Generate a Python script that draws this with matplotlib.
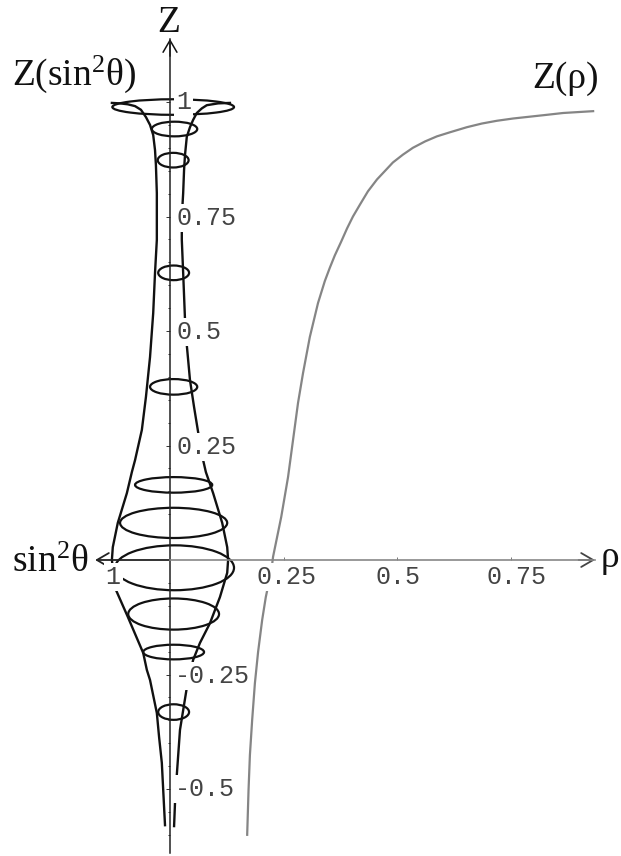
import matplotlib
matplotlib.use('Agg')
import matplotlib.pyplot as plt
from matplotlib.patches import Ellipse

plt.rcParams['font.family'] = ['Liberation Serif', 'DejaVu Serif']
plt.rcParams['mathtext.fontset'] = 'custom'
plt.rcParams['mathtext.rm'] = 'Liberation Serif'
plt.rcParams['mathtext.default'] = 'rm'

# gray curve Z(rho)
rho = [.170, .173, .176, .181, .187, .194, .203, .211, .218, .225, .227, .245, .260, .271, .282,
       .293, .308, .326, .341, .352, .363, .377, .390, .403, .419, .436, .456, .474, .491, .513,
       .535, .562, .588, .617, .654, .687, .720, .756, .793, .830, .866, .899, .932]
z_rho = [-.600, -.502, -.426, -.349, -.269, -.201, -.131, -.081, -.048, -.009, .007, .094, .181,
         .262, .343, .408, .487, .561, .609, .638, .665, .695, .724, .750, .777, .805, .831,
         .850, .868, .885, .900, .914, .925, .934, .945, .953, .959, .964, .968, .972, .976,
         .978, .980]

# black profile, left and right side
left_x = [-.128, -.110, -.093, -.077, -.064, -.053, -.044, -.037, -.033, -.031, -.029, -.029,
          -.033, -.037, -.044, -.053, -.062, -.077, -.084, -.095, -.115, -.126, -.128, -.121,
          -.093, -.059, -.051, -.044, -.029, -.024, -.018, -.011]
left_z = [.998, .997, .995, .991, .983, .967, .950, .928, .895, .862, .801, .699, .627, .539,
          .443, .356, .284, .218, .192, .146, .081, .028, 0, -.061, -.124, -.203, -.240, -.262,
          -.334, -.387, -.443, -.579]
right_x = [.132, .106, .081, .070, .059, .051, .044, .037, .033, .031, .029, .026, .026, .029,
           .033, .037, .044, .053, .062, .073, .079, .095, .115, .126, .128, .126, .110, .088,
           .066, .051, .037, .022, .015, .011, .009]
right_z = [.998, .997, .993, .986, .976, .961, .945, .924, .884, .852, .801, .749, .699, .627,
           .526, .469, .393, .334, .279, .218, .192, .146, .081, .028, 0, -.028, -.081, -.138,
           -.181, -.218, -.279, -.371, -.469, -.531, -.581]

# rings
ring_z = [.989, .941, .873, .627, .378, .164, .081, -.017, -.118, -.201, -.332]
ring_x = [.007, .010, .007, .008, .008, .008, .008, .010, .008, .008, .008]
ring_a = [.134, .050, .034, .034, .052, .085, .118, .131, .100, .067, .034]
ring_b = [.017, .016, .016, .016, .017, .017, .033, .049, .034, .016, .017]

z_ticks = [-.5, -.25, .25, .5, .75, 1]
z_minor = [-.6, -.55, -.45, -.4, -.35, -.3, -.2, -.15, -.1, -.05, .05, .1, .15, .2, .3, .35, .4,
           .45, .55, .6, .65, .7, .8, .85, .9, .95]
z_labels = ['-0.5', '-0.25', '0.25', '0.5', '0.75', '1']
rho_ticks = [.25, .5, .75]
rho_labels = ['0.25', '0.5', '0.75']

fig = plt.figure(figsize=(6.21, 8.56), dpi=100)
ax = fig.add_axes([0, 0, 1, 1])
ax.set_xlim(-170 / 454, 451 / 454)
ax.set_ylim(-296 / 458, 560 / 458)


def at(px, py):
    # picture pixel to data, only for placing text
    return (px - 170) / 454, (560 - py) / 458


ax.plot(rho, z_rho, color='#858585', lw=1.6, zorder=2)
ax.plot(left_x, left_z, color='#111111', lw=1.7, zorder=2)
ax.plot(right_x, right_z, color='#111111', lw=1.7, zorder=2)
for x, z, a, b in zip(ring_x, ring_z, ring_a, ring_b):
    ax.add_patch(Ellipse((x, z), 2 * a, 2 * b, fill=False, ec='#111111', lw=1.6, zorder=2))

# axes
for side in ['top', 'right']:
    ax.spines[side].set_visible(False)
ax.spines['left'].set_position('zero')
ax.spines['bottom'].set_position('zero')
ax.spines['left'].set_bounds(-.640, 1.138)
ax.spines['left'].set_color('#222222')
ax.spines['left'].set_linewidth(1.1)
ax.spines['bottom'].set_bounds(0, .936)
ax.spines['bottom'].set_color('#888888')
ax.spines['bottom'].set_linewidth(1.2)
ax.set_yticks(z_ticks)
ax.set_yticks(z_minor, minor=True)
ax.set_xticks(rho_ticks)
ax.set_yticklabels([])
ax.set_xticklabels([])
ax.tick_params(axis='y', which='major', direction='out', length=3, width=.7, color='#333333')
ax.tick_params(axis='y', which='minor', direction='out', length=1.5, width=.7, color='#333333')
ax.tick_params(axis='x', direction='in', length=2.5, width=.7, color='#777777')
ax.patch.set_visible(False)

head = '->,head_length=.86,head_width=.5'
for start, tip, col, w in [((0, 1.1), (0, 1.138), '#111111', 1.1),
                           ((.9, 0), (.936, 0), '#444444', 1.3),
                           ((0, 0), (-.165, 0), '#222222', 1.3)]:
    ax.annotate('', xy=tip, xytext=start, zorder=2,
                arrowprops=dict(arrowstyle=head, color=col, lw=w, shrinkA=0, shrinkB=0,
                                mutation_scale=10))

# tick labels, white box cuts the curves behind them
box = dict(fc='white', ec='none', pad=1.5)
mono = dict(family='Liberation Mono', fontsize=18, color='#444444', va='center', zorder=3, bbox=box)
z_pos = [(175, 789), (175, 676), (176, 447), (176, 332), (176, 218), (176, 102)]
for lab, (px, py) in zip(z_labels, z_pos):
    ax.text(*at(px, py), lab, ha='left', **mono)
x_pos = [(287, 577), (398, 577), (517, 577)]
for lab, (px, py) in zip(rho_labels, x_pos):
    ax.text(*at(px, py), lab, ha='center', **mono)
ax.text(*at(113, 577), '1', ha='center', **mono)

# axis and curve names
ax.text(*at(169, 32), 'Z', fontsize=27, ha='center', va='baseline', color='#111111')
ax.text(*at(12, 85), 'Z(sin$^2$θ)', fontsize=27, ha='left', va='baseline', color='#111111')
ax.text(*at(532, 88), 'Z(ρ)', fontsize=27, ha='left', va='baseline', color='#111111')
ax.text(*at(12, 572), 'sin$^2$θ', fontsize=27, ha='left', va='baseline', color='#111111')
ax.text(*at(601, 567), 'ρ', fontsize=27, ha='left', va='baseline', color='#111111')

fig.savefig('out.png', dpi=100)
